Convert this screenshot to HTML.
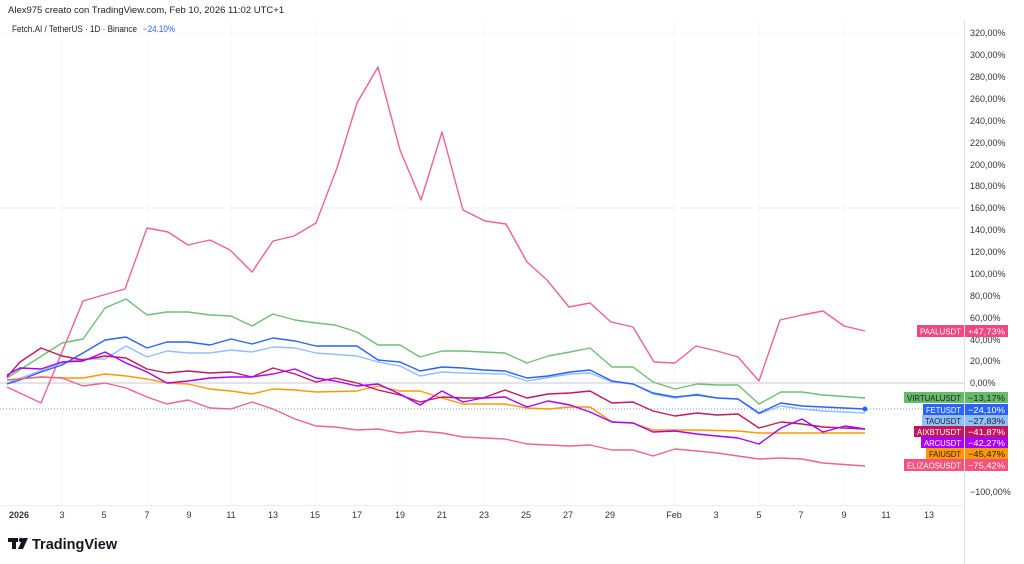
<!DOCTYPE html>
<html><head><meta charset="utf-8"><style>
html,body{margin:0;padding:0;background:#fff;width:1024px;height:564px;overflow:hidden}
svg{display:block}
text{font-family:"Liberation Sans",sans-serif}
</style></head><body>
<svg width="1024" height="564" viewBox="0 0 1024 564" xmlns="http://www.w3.org/2000/svg">
<rect width="1024" height="564" fill="#fff"/>
<text x="8" y="13" font-size="9.5" fill="#222">Alex975 creato con TradingView.com, Feb 10, 2026 11:02 UTC+1</text>
<text x="12" y="32" font-size="9" fill="#222" textLength="125" lengthAdjust="spacingAndGlyphs">Fetch.AI / TetherUS · 1D · Binance</text>
<text x="143" y="32" font-size="9" fill="#2962ff" textLength="32" lengthAdjust="spacingAndGlyphs">−24,10%</text>
<g stroke="#f7f7f9" stroke-width="1">
<line x1="0" y1="33" x2="964" y2="33"/>
<line x1="62" y1="20" x2="62" y2="505"/><line x1="147" y1="20" x2="147" y2="505"/><line x1="231" y1="20" x2="231" y2="505"/><line x1="315" y1="20" x2="315" y2="505"/><line x1="400" y1="20" x2="400" y2="505"/><line x1="484" y1="20" x2="484" y2="505"/><line x1="568" y1="20" x2="568" y2="505"/><line x1="674" y1="20" x2="674" y2="505"/><line x1="759" y1="20" x2="759" y2="505"/><line x1="844" y1="20" x2="844" y2="505"/>
</g>
<line x1="0" y1="208" x2="964" y2="208" stroke="#f0f0f3"/>
<line x1="0" y1="383" x2="964" y2="383" stroke="#c8c8cc" stroke-width="1"/>
<line x1="0" y1="409" x2="964" y2="409" stroke="#7b9cf5" stroke-width="1" stroke-dasharray="1,2"/>
<line x1="964.5" y1="20" x2="964.5" y2="564" stroke="#e0e0e3"/>
<line x1="0" y1="505.5" x2="964" y2="505.5" stroke="#ededf0"/>
<g fill="none" stroke-width="1.4" stroke-linejoin="round">
<polyline stroke="#f06292" points="7,387 41,403 62,352 83,301 100,296 125,289 147,228 168,232 188,245 210,240 230,250 252,272 273,241 294,236 316,223 337,168 357,103 378,67 400,150 421,200 442,132 463,210 485,221 506,224 527,262 547,280 569,307 590,303 611,322 633,327 654,362 675,363 696,346 717,351 738,357 759,381 780,320 802,315 823,311 844,326 865,331"/>
<polyline stroke="#6fbf73" points="7,378 62,343 83,339 105,308 126,299 147,315 167,312 188,312 210,315 231,316 252,326 273,314 295,320 316,323 335,325 357,332 378,345 400,345 420,357 442,351 463,351 483,352 505,353 527,363 548,356 570,352 590,348 612,367 633,367 653,382 675,389 697,384 717,385 738,385 759,404 781,392 802,392 823,395 865,398"/>
<polyline stroke="#90bff9" points="7,383 62,363 83,359 105,359 126,346 147,357 167,351 188,353 210,353 231,350 252,352 273,347 295,348 316,353 357,356 378,362 400,366 420,376 442,372 463,373 505,374 527,381 570,374 590,373 612,382 633,384 653,394 675,398 697,394 717,398 738,399 759,414 781,406 802,409 823,411 865,413"/>
<polyline stroke="#2962ff" points="7,384 20,380 41,372 62,365 83,353 105,340 126,337 147,348 167,342 188,342 210,345 231,339 252,344 273,338 295,341 316,346 357,346 378,360 400,362 420,371 442,367 463,368 483,370 505,371 527,378 548,376 570,372 590,370 612,381 633,384 653,393 675,397 697,395 717,398 738,399 759,413 781,403 802,406 823,407 865,409"/>
<polyline stroke="#ff9800" points="7,380 41,377 62,378 83,378 105,374 126,376 147,379 167,383 188,384 210,389 231,391 252,394 273,389 295,390 316,392 357,391 378,386 400,391 420,391 442,398 463,404 505,404 527,408 548,409 570,407 590,407 612,422 633,423 653,430 697,430 738,431 759,433 865,433"/>
<polyline stroke="#f06292" points="7,380 41,377 62,378 83,386 105,383 126,388 147,397 167,404 188,400 210,408 231,409 252,402 273,409 295,419 316,426 335,427 357,430 378,429 400,433 420,431 442,433 463,437 505,439 527,444 548,445 570,446 590,445 612,450 633,450 653,456 675,449 697,451 717,453 738,456 759,459 781,458 802,459 823,463 865,466"/>
<polyline stroke="#c2185b" points="7,377 20,362 41,348 62,356 83,360 105,356 126,358 147,369 167,373 188,371 210,373 231,372 252,377 273,368 295,374 316,382 330,379 335,378 357,383 378,390 400,395 420,402 442,397 463,398 483,398 505,390 527,398 548,394 570,393 590,391 612,403 633,402 653,411 675,416 697,413 717,415 738,414 759,428 781,422 802,424 823,427 865,429"/>
<polyline stroke="#aa00ff" points="7,375 20,368 41,369 62,362 83,361 105,352 126,363 147,372 167,383 188,381 210,378 231,377 252,377 273,374 295,369 316,378 335,381 357,386 378,384 400,394 420,405 442,391 463,402 483,398 505,397 527,407 548,401 570,405 590,412 612,422 633,423 653,432 675,431 697,434 717,436 738,438 759,444 781,428 802,419 823,432 845,426 865,429"/>
</g>
<circle cx="865" cy="409" r="2.5" fill="#2962ff"/>
<g font-size="9" fill="#333">
<text x="970" y="36">320,00%</text><text x="970" y="58">300,00%</text><text x="970" y="80">280,00%</text><text x="970" y="102">260,00%</text><text x="970" y="124">240,00%</text><text x="970" y="146">220,00%</text><text x="970" y="168">200,00%</text><text x="970" y="189">180,00%</text><text x="970" y="211">160,00%</text><text x="970" y="233">140,00%</text><text x="970" y="255">120,00%</text><text x="970" y="277">100,00%</text><text x="970" y="299">80,00%</text><text x="970" y="321">60,00%</text><text x="970" y="343">40,00%</text><text x="970" y="364">20,00%</text><text x="970" y="386">0,00%</text><text x="970" y="495">−100,00%</text>
</g>
<g font-size="8" fill="#fff">
<rect x="917" y="325" width="47" height="12" fill="#f0487e"/><rect x="965" y="325" width="43" height="12" fill="#f0487e"/>
<rect x="904" y="392" width="60" height="11" fill="#66bb6a"/><rect x="965" y="392" width="43" height="11" fill="#66bb6a"/>
<rect x="923" y="404" width="41" height="11" fill="#2962ff"/><rect x="965" y="404" width="43" height="11" fill="#2962ff"/>
<rect x="922" y="415" width="42" height="11" fill="#90bff9"/><rect x="965" y="415" width="43" height="11" fill="#90bff9"/>
<rect x="914" y="426" width="50" height="11" fill="#c2185b"/><rect x="965" y="426" width="43" height="11" fill="#c2185b"/>
<rect x="921" y="437" width="43" height="11" fill="#aa00ff"/><rect x="965" y="437" width="43" height="11" fill="#aa00ff"/>
<rect x="926" y="448" width="38" height="11" fill="#ff9800"/><rect x="965" y="448" width="43" height="11" fill="#ff9800"/>
<rect x="904" y="459" width="60" height="12" fill="#f7527d"/><rect x="965" y="459" width="43" height="12" fill="#f7527d"/>
<text x="920" y="334.5" textLength="41" lengthAdjust="spacingAndGlyphs">PAALUSDT</text>
<text x="907" y="401" fill="#222" textLength="54" lengthAdjust="spacingAndGlyphs">VIRTUALUSDT</text>
<text x="926" y="413" textLength="35" lengthAdjust="spacingAndGlyphs">FETUSDT</text>
<text x="925" y="424" fill="#222" textLength="36" lengthAdjust="spacingAndGlyphs">TAOUSDT</text>
<text x="917" y="435" textLength="44" lengthAdjust="spacingAndGlyphs">AIXBTUSDT</text>
<text x="924" y="446" textLength="37" lengthAdjust="spacingAndGlyphs">ARCUSDT</text>
<text x="929" y="457" fill="#222" textLength="32" lengthAdjust="spacingAndGlyphs">FAIUSDT</text>
<text x="907" y="468.5" textLength="54" lengthAdjust="spacingAndGlyphs">ELIZAOSUSDT</text>
<g font-size="8.5">
<text x="968" y="334.5" textLength="37" lengthAdjust="spacingAndGlyphs">+47,73%</text><text x="968" y="401" fill="#222" textLength="37" lengthAdjust="spacingAndGlyphs">−13,17%</text><text x="968" y="413" textLength="37" lengthAdjust="spacingAndGlyphs">−24,10%</text><text x="968" y="424" fill="#222" textLength="37" lengthAdjust="spacingAndGlyphs">−27,83%</text><text x="968" y="435" textLength="37" lengthAdjust="spacingAndGlyphs">−41,87%</text><text x="968" y="446" textLength="37" lengthAdjust="spacingAndGlyphs">−42,27%</text><text x="968" y="457" fill="#222" textLength="37" lengthAdjust="spacingAndGlyphs">−45,47%</text><text x="968" y="468.5" textLength="37" lengthAdjust="spacingAndGlyphs">−75,42%</text>
</g>
</g>
<g font-size="9" fill="#333" text-anchor="middle">
<text x="19" y="518" font-weight="bold">2026</text><text x="62" y="518">3</text><text x="104" y="518">5</text><text x="147" y="518">7</text><text x="189" y="518">9</text><text x="231" y="518">11</text><text x="273" y="518">13</text><text x="315" y="518">15</text><text x="357" y="518">17</text><text x="400" y="518">19</text><text x="442" y="518">21</text><text x="484" y="518">23</text><text x="526" y="518">25</text><text x="568" y="518">27</text><text x="610" y="518">29</text><text x="674" y="518">Feb</text><text x="716" y="518">3</text><text x="759" y="518">5</text><text x="801" y="518">7</text><text x="844" y="518">9</text><text x="886" y="518">11</text><text x="929" y="518">13</text>
</g>
<g fill="#131722">
<rect x="8" y="538" width="10" height="4"/><rect x="12" y="538" width="4" height="11"/><circle cx="21" cy="540" r="2.2"/><polygon points="23,538 28,538 23,549 18,549"/>
</g>
<text x="32" y="549" font-size="14.5" font-weight="bold" fill="#131722">TradingView</text>
</svg>
</body></html>
